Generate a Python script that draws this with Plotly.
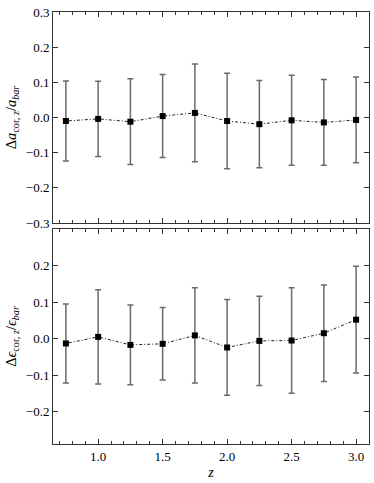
import plotly.graph_objects as go
from plotly.subplots import make_subplots

# redshift bins
z = [0.75, 1.0, 1.25, 1.5, 1.75, 2.0, 2.25, 2.5, 2.75, 3.0]

# top panel: delta a / a
da = [-0.010, -0.004, -0.012, 0.004, 0.013, -0.010, -0.019, -0.008, -0.014, -0.007]
da_err = [0.114, 0.107, 0.122, 0.118, 0.139, 0.136, 0.124, 0.128, 0.122, 0.122]

# bottom panel: delta eps / eps
de = [-0.013, 0.005, -0.017, -0.014, 0.009, -0.024, -0.006, -0.005, 0.015, 0.052]
de_err = [0.108, 0.129, 0.109, 0.099, 0.130, 0.131, 0.122, 0.144, 0.132, 0.146]

top_ticks = [-0.3, -0.2, -0.1, 0.0, 0.1, 0.2, 0.3]
bot_ticks = [-0.2, -0.1, 0.0, 0.1, 0.2]
x_ticks = [1.0, 1.5, 2.0, 2.5, 3.0]

FONT = "Times New Roman"

fig = make_subplots(rows=2, cols=1, shared_xaxes=False)


def add_series(y, err, row):
    fig.add_trace(go.Scatter(
        x=z, y=y, mode="lines+markers",
        line=dict(color="#222222", width=1, dash="1px,2px,3px,2px"),
        marker=dict(symbol="square", size=6, color="black"),
        error_y=dict(type="data", array=err, visible=True,
                     color="#6a6a6a", thickness=1.5, width=3),
        showlegend=False,
    ), row=row, col=1)


add_series(da, da_err, 1)
add_series(de, de_err, 2)

ax_common = dict(showline=True, linecolor="#333333", linewidth=1, mirror="allticks",
                 ticks="inside", tickcolor="#333333", showgrid=False, zeroline=False)

fig.update_xaxes(range=[0.65, 3.1], tickvals=x_ticks, tickformat=".1f", ticklen=5,
                 minor=dict(dtick=0.1, tick0=0, ticks="inside", ticklen=3,
                            tickcolor="#333333", showgrid=False),
                 **ax_common)
fig.update_xaxes(showticklabels=False, row=1, col=1)
fig.update_xaxes(title=dict(text="<i>z</i>", standoff=4, font=dict(size=14)), row=2, col=1)

fig.update_yaxes(ticklen=5, tickformat=".1f", **ax_common)
fig.update_yaxes(range=[-0.3, 0.3], tickvals=top_ticks, domain=[0.5116, 1.0],
                 title=dict(text="Δ<i>a</i><sub>cor, <i>z</i></sub>/<i>a</i><sub><i>bar</i></sub>",
                            standoff=5, font=dict(size=14.5)),
                 row=1, col=1)
fig.update_yaxes(range=[-0.288, 0.3], tickvals=bot_ticks, domain=[0.0, 0.4977],
                 title=dict(text="Δ<i>ϵ</i><sub>cor, <i>z</i></sub>/<i>ϵ</i><sub><i>bar</i></sub>",
                            standoff=5, font=dict(size=14.5)),
                 row=2, col=1)

fig.update_layout(
    width=374, height=483,
    margin=dict(l=53, r=5, t=12, b=39),
    paper_bgcolor="white", plot_bgcolor="white",
    font=dict(family=FONT, size=13, color="black"),
)

# page body has a default margin; drop it so the figure sits at the top-left corner
fig.write_html("out.html", config={"displayModeBar": False},
               post_script="document.body.style.margin='0px';")
